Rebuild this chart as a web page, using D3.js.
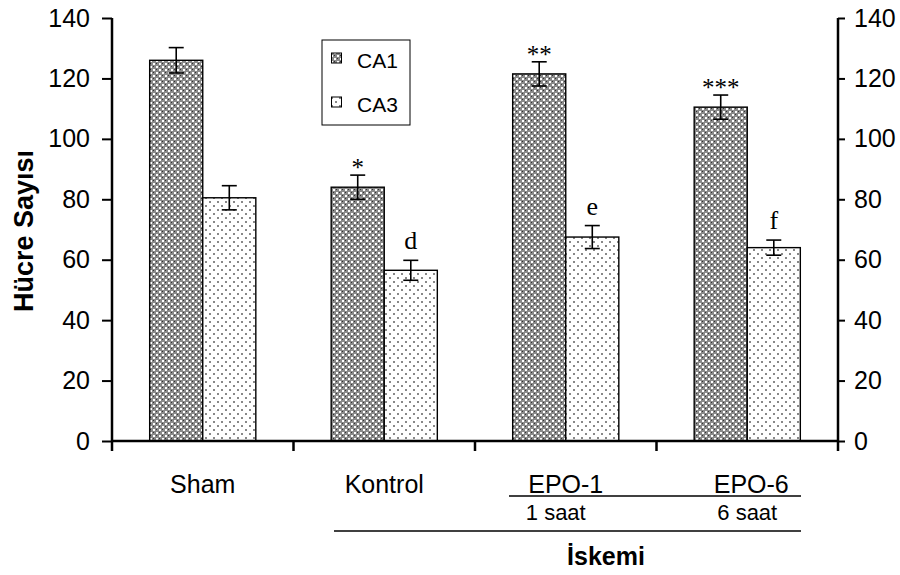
<!DOCTYPE html>
<meta charset="utf-8">
<script src="https://d3js.org/d3.v7.min.js"></script>
<style>
  body { margin: 0; background: #fff; }
  text { font-family: "Liberation Sans", Arial, sans-serif; }
</style>
<div id="chart"></div>
<script>

// data
var groups = ["Sham", "Kontrol", "EPO-1", "EPO-6"];
var series = ["CA1", "CA3"];
var ca1 = [126, 84, 121.5, 110.5];
var ca3 = [80.5, 56.5, 67.5, 64];
var ca1Err = [4.2, 4, 4, 4];
var ca3Err = [4, 3.3, 3.8, 2.5];
var ca1Marks = ["", "*", "**", "***"];
var ca3Marks = ["", "d", "e", "f"];
var yTicks = [0, 20, 40, 60, 80, 100, 120, 140];

var width = 900, height = 575;
var plotLeft = 112, plotRight = 838, plotTop = 18, plotBottom = 441;

var svg = d3.select("#chart").append("svg")
    .attr("width", width)
    .attr("height", height);

// fill patterns
var defs = svg.append("defs");
var p1 = defs.append("pattern")
    .attr("id", "pat-ca1")
    .attr("patternUnits", "userSpaceOnUse")
    .attr("width", 6).attr("height", 6);
p1.append("rect").attr("width", 6).attr("height", 6).attr("fill", "#8a8a8a");
p1.append("rect").attr("x", 0).attr("y", 0).attr("width", 2).attr("height", 2).attr("fill", "#fff");
p1.append("rect").attr("x", 3).attr("y", 3).attr("width", 2).attr("height", 2).attr("fill", "#fff");
p1.append("rect").attr("x", 3).attr("y", 0).attr("width", 1).attr("height", 1).attr("fill", "#333");
p1.append("rect").attr("x", 0).attr("y", 3).attr("width", 1).attr("height", 1).attr("fill", "#333");

var p3 = defs.append("pattern")
    .attr("id", "pat-ca3")
    .attr("patternUnits", "userSpaceOnUse")
    .attr("width", 8).attr("height", 8);
p3.append("rect").attr("width", 8).attr("height", 8).attr("fill", "#fff");
p3.append("rect").attr("x", 1).attr("y", 1).attr("width", 2).attr("height", 2).attr("fill", "#888");
p3.append("rect").attr("x", 5).attr("y", 5).attr("width", 2).attr("height", 2).attr("fill", "#888");

var fills = {CA1: "url(#pat-ca1)", CA3: "url(#pat-ca3)"};

// scales
var x = d3.scaleBand()
    .domain(groups)
    .range([plotLeft, plotRight])
    .paddingInner(0)
    .paddingOuter(0);

var xs = d3.scaleBand()
    .domain(series)
    .range([0, x.bandwidth()])
    .paddingInner(0)
    .paddingOuter(0.71);

var y = d3.scaleLinear()
    .domain([0, 140])
    .range([plotBottom, plotTop]);

// bars
var rows = [];
groups.forEach(function(g, i) {
  rows.push({g: g, s: "CA1", v: ca1[i], e: ca1Err[i], m: ca1Marks[i]});
  rows.push({g: g, s: "CA3", v: ca3[i], e: ca3Err[i], m: ca3Marks[i]});
});

svg.selectAll("rect.bar")
  .data(rows)
  .enter().append("rect")
    .attr("class", "bar")
    .attr("x", function(d) { return x(d.g) + xs(d.s); })
    .attr("y", function(d) { return y(d.v); })
    .attr("width", xs.bandwidth())
    .attr("height", function(d) { return y(0) - y(d.v); })
    .attr("fill", function(d) { return fills[d.s]; })
    .attr("stroke", "#000")
    .attr("stroke-width", 1.4);

// error bars
var eb = svg.selectAll("g.err")
  .data(rows)
  .enter().append("g")
    .attr("class", "err")
    .attr("transform", function(d) { return "translate(" + (x(d.g) + xs(d.s) + xs.bandwidth() / 2) + ",0)"; });
eb.append("line")
    .attr("y1", function(d) { return y(d.v + d.e); })
    .attr("y2", function(d) { return y(d.v - d.e); })
    .attr("stroke", "#000").attr("stroke-width", 1.6);
eb.append("line")
    .attr("x1", -7.5).attr("x2", 7.5)
    .attr("y1", function(d) { return y(d.v + d.e); })
    .attr("y2", function(d) { return y(d.v + d.e); })
    .attr("stroke", "#000").attr("stroke-width", 1.6);
eb.append("line")
    .attr("x1", -7.5).attr("x2", 7.5)
    .attr("y1", function(d) { return y(d.v - d.e); })
    .attr("y2", function(d) { return y(d.v - d.e); })
    .attr("stroke", "#000").attr("stroke-width", 1.6);

// significance marks
eb.append("text")
    .attr("y", function(d) { return y(d.v + d.e) - (d.s === "CA1" ? -1 : 11); })
    .attr("text-anchor", "middle")
    .style("font-family", "'Liberation Serif', 'Times New Roman', serif")
    .style("font-size", function(d) { return d.s === "CA1" ? "25px" : "26px"; })
    .text(function(d) { return d.m; });

// axes
var yLeft = d3.axisLeft(y).tickValues(yTicks).tickSize(10).tickPadding(12);
var yRight = d3.axisRight(y).tickValues(yTicks).tickSize(7).tickPadding(9);

function styleAxis(g) {
  g.select(".domain").remove();
  g.selectAll(".tick line").attr("stroke-width", 2);
  g.selectAll(".tick text")
    .style("font-family", "'Liberation Sans', Arial, sans-serif")
    .style("font-size", "25px")
    .attr("fill", "#000");
}

svg.append("g")
    .attr("transform", "translate(" + plotLeft + ",0)")
    .call(yLeft)
    .call(styleAxis);

svg.append("g")
    .attr("transform", "translate(" + plotRight + ",0)")
    .call(yRight)
    .call(styleAxis);

// axis lines
svg.append("line")
    .attr("x1", plotLeft).attr("x2", plotLeft)
    .attr("y1", y(140)).attr("y2", y(0))
    .attr("stroke", "#000").attr("stroke-width", 2.5);
svg.append("line")
    .attr("x1", plotRight).attr("x2", plotRight)
    .attr("y1", y(140)).attr("y2", y(0))
    .attr("stroke", "#000").attr("stroke-width", 2.5);
svg.append("line")
    .attr("x1", plotLeft).attr("x2", plotRight)
    .attr("y1", y(0)).attr("y2", y(0))
    .attr("stroke", "#000").attr("stroke-width", 2.5);

// category ticks on x axis
var xTickPos = groups.map(function(g) { return x(g); }).concat([plotRight]);
svg.selectAll("line.xtick")
  .data(xTickPos)
  .enter().append("line")
    .attr("class", "xtick")
    .attr("x1", function(d) { return d; })
    .attr("x2", function(d) { return d; })
    .attr("y1", y(0)).attr("y2", y(0) + 10)
    .attr("stroke", "#000").attr("stroke-width", 2.5);

// category labels
svg.selectAll("text.cat")
  .data(groups)
  .enter().append("text")
    .attr("class", "cat")
    .attr("x", function(d) { return x(d) + x.bandwidth() / 2 + (d === "EPO-6" ? 4 : 0); })
    .attr("y", 493)
    .attr("text-anchor", "middle")
    .style("font-size", "25px")
    .text(function(d) { return d; });

// sub labels for EPO groups
svg.append("line")
    .attr("x1", 509).attr("x2", 801)
    .attr("y1", 496).attr("y2", 496)
    .attr("stroke", "#000").attr("stroke-width", 1.6);
svg.append("text")
    .attr("x", x("EPO-1") + x.bandwidth() / 2 - 10).attr("y", 520)
    .attr("text-anchor", "middle")
    .style("font-size", "22px")
    .text("1 saat");
svg.append("text")
    .attr("x", x("EPO-6") + x.bandwidth() / 2).attr("y", 520)
    .attr("text-anchor", "middle")
    .style("font-size", "22px")
    .text("6 saat");

// ischemia bracket
svg.append("line")
    .attr("x1", 334).attr("x2", 801)
    .attr("y1", 531).attr("y2", 531)
    .attr("stroke", "#000").attr("stroke-width", 1.6);
svg.append("text")
    .attr("x", 606).attr("y", 565)
    .attr("text-anchor", "middle")
    .style("font-size", "25px")
    .style("font-weight", "bold")
    .text("İskemi");

// y axis title
svg.append("text")
    .attr("transform", "translate(33,231) rotate(-90)")
    .attr("text-anchor", "middle")
    .style("font-size", "27px")
    .style("font-weight", "bold")
    .text("Hücre Sayısı");

// legend
var lg = svg.append("g").attr("transform", "translate(322,40)");
lg.append("rect")
    .attr("width", 88).attr("height", 85)
    .attr("fill", "#fff").attr("stroke", "#000").attr("stroke-width", 1);
series.forEach(function(s, i) {
  lg.append("rect")
      .attr("x", 9.5).attr("y", 13 + i * 44)
      .attr("width", 10).attr("height", 10)
      .attr("fill", fills[s]).attr("stroke", "#000").attr("stroke-width", 1);
  lg.append("text")
      .attr("x", 35).attr("y", 28 + i * 44)
      .style("font-size", "21px")
      .text(s);
});

</script>
